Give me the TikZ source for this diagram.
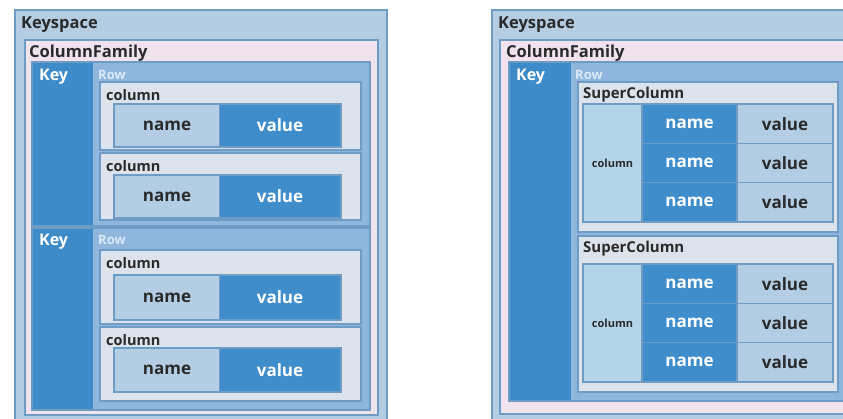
\documentclass[tikz,border=0pt]{standalone}
\usepackage{fontspec}
\setmainfont{Open Sans}
\definecolor{ksfill}{HTML}{B4CDE3}
\definecolor{bord}{HTML}{6F9CC4}
\definecolor{cffill}{HTML}{F1E3EE}
\definecolor{rowfill}{HTML}{8FB6DC}
\definecolor{keyfill}{HTML}{3E8BC9}
\definecolor{colfill}{HTML}{DCE3EC}
\definecolor{namefill}{HTML}{B3CDE4}
\definecolor{valfill}{HTML}{3F8DCB}
\definecolor{ccell}{HTML}{B2D5E9}
\definecolor{txt}{HTML}{2A2A2A}
\definecolor{rowtxt}{HTML}{DCEAF7}
\tikzset{
  x=1pt, y=-1pt,
  boxr/.style={draw=bord, line width=1.3pt},
  lbl/.style={anchor=west, inner sep=0pt, font=\bfseries, text=txt},
  big/.style={lbl, font=\fontsize{16.5}{16.5}\selectfont\bfseries},
  keylbl/.style={anchor=west, inner sep=0pt, font=\fontsize{16}{16}\selectfont\bfseries, text=white},
  rowlbl/.style={anchor=west, inner sep=0pt, font=\fontsize{13}{13}\selectfont\bfseries, text=rowtxt},
  collbl/.style={lbl, font=\fontsize{14.5}{14.5}\selectfont\bfseries},
  cell/.style={inner sep=0pt, font=\fontsize{17}{17}\selectfont\bfseries},
}
\begin{document}
\begin{tikzpicture}
\useasboundingbox (0,0) rectangle (843,419);
\clip (0,0) rectangle (843,419);
\fill[white] (0,0) rectangle (843,419);

% ================= LEFT =================
\draw[boxr, fill=ksfill] (15,10) rectangle (387,430);
\node[big] (ks1) at (21,25) {Keyspace};
\draw[boxr, fill=cffill] (25,40) rectangle (378,415);
\node[big] (cf1) at (29,53) {ColumnFamily};

% key/row 1
\draw[boxr, fill=rowfill] (32,62) rectangle (370,226);
\fill[keyfill] (32.6,62.6) rectangle (93,225.4);
\node[keylbl] (k1) at (39,77) {Key};
\node[rowlbl] (r1) at (98,75) {Row};
% key/row 2
\draw[boxr, fill=rowfill] (32,228) rectangle (370,410);
\fill[keyfill] (32.6,228.6) rectangle (93,409.4);
\node[keylbl] (k2) at (39,242) {Key};
\node[rowlbl] (r2) at (98,240) {Row};

% columns
\foreach \t/\nt/\nb/\i in {82/104/147/1, 153/175/218/2, 250/275/320/3, 327/348/392/4}{
  \pgfmathsetmacro{\bb}{\ifnum\i=1 150\else\ifnum\i=2 220\else\ifnum\i=3 324\else 401\fi\fi\fi}
  \draw[draw=bord, line width=1.2pt, fill=colfill] (100,\t) rectangle (361,\bb);
  \node[collbl] (c\i) at (106,\t+13) {column};
  \draw[draw=bord, line width=1.2pt, fill=namefill] (114,\nt) rectangle (220,\nb);
  \fill[valfill] (220,\nt) rectangle (341,\nb);
  \draw[draw=bord, line width=1.2pt] (114,\nt) rectangle (341,\nb);
  \node[cell, text=txt] (n\i) at (167,{(\nt+\nb)/2}) {name};
  \node[cell, text=white] (v\i) at (280,{(\nt+\nb)/2}) {value};
}

% ================= RIGHT =================
\draw[boxr, fill=ksfill] (492,10) rectangle (870,430);
\node[big] (ks2) at (498,25) {Keyspace};
\draw[boxr, fill=cffill] (500,40) rectangle (865,414);
\node[big] (cf2) at (506,53) {ColumnFamily};
\draw[boxr, fill=rowfill] (509,62) rectangle (860,401);
\fill[keyfill] (509.6,62.6) rectangle (571,400.4);
\node[keylbl] (k3) at (516,77) {Key};
\node[rowlbl] (r3) at (575,75) {Row};

\foreach \t/\b/\gt/\gb/\i in {82/232/104/222/1, 236/392/264/382/2}{
  \draw[draw=bord, line width=1.2pt, fill=colfill] (578,\t) rectangle (838,\b);
  \node[lbl, font=\fontsize{15}{15}\selectfont\bfseries] (sc\i) at (583,\t+13) {SuperColumn};
  \draw[draw=bord, line width=1.2pt, fill=ccell] (583,\gt) rectangle (642,\gb);
  \node[inner sep=0pt, font=\fontsize{11}{11}\selectfont\bfseries, text=txt] (cc\i) at (612.5,{(\gt+\gb)/2}) {column};
  \pgfmathsetmacro{\h}{(\gb-\gt)/3}
  \foreach \j in {0,1,2}{
    \pgfmathsetmacro{\ya}{\gt+\j*\h}
    \pgfmathsetmacro{\yb}{\gt+(\j+1)*\h}
    \draw[draw=bord, line width=1.2pt, fill=valfill] (642,\ya) rectangle (737,\yb);
    \draw[draw=bord, line width=1.2pt, fill=namefill] (737,\ya) rectangle (833,\yb);
    \node[cell, text=white] (sn\i\j) at (689.5,{(\ya+\yb)/2}) {name};
    \node[cell, text=txt] (sv\i\j) at (785,{(\ya+\yb)/2}) {value};
  }
}
\end{tikzpicture}
\end{document}
